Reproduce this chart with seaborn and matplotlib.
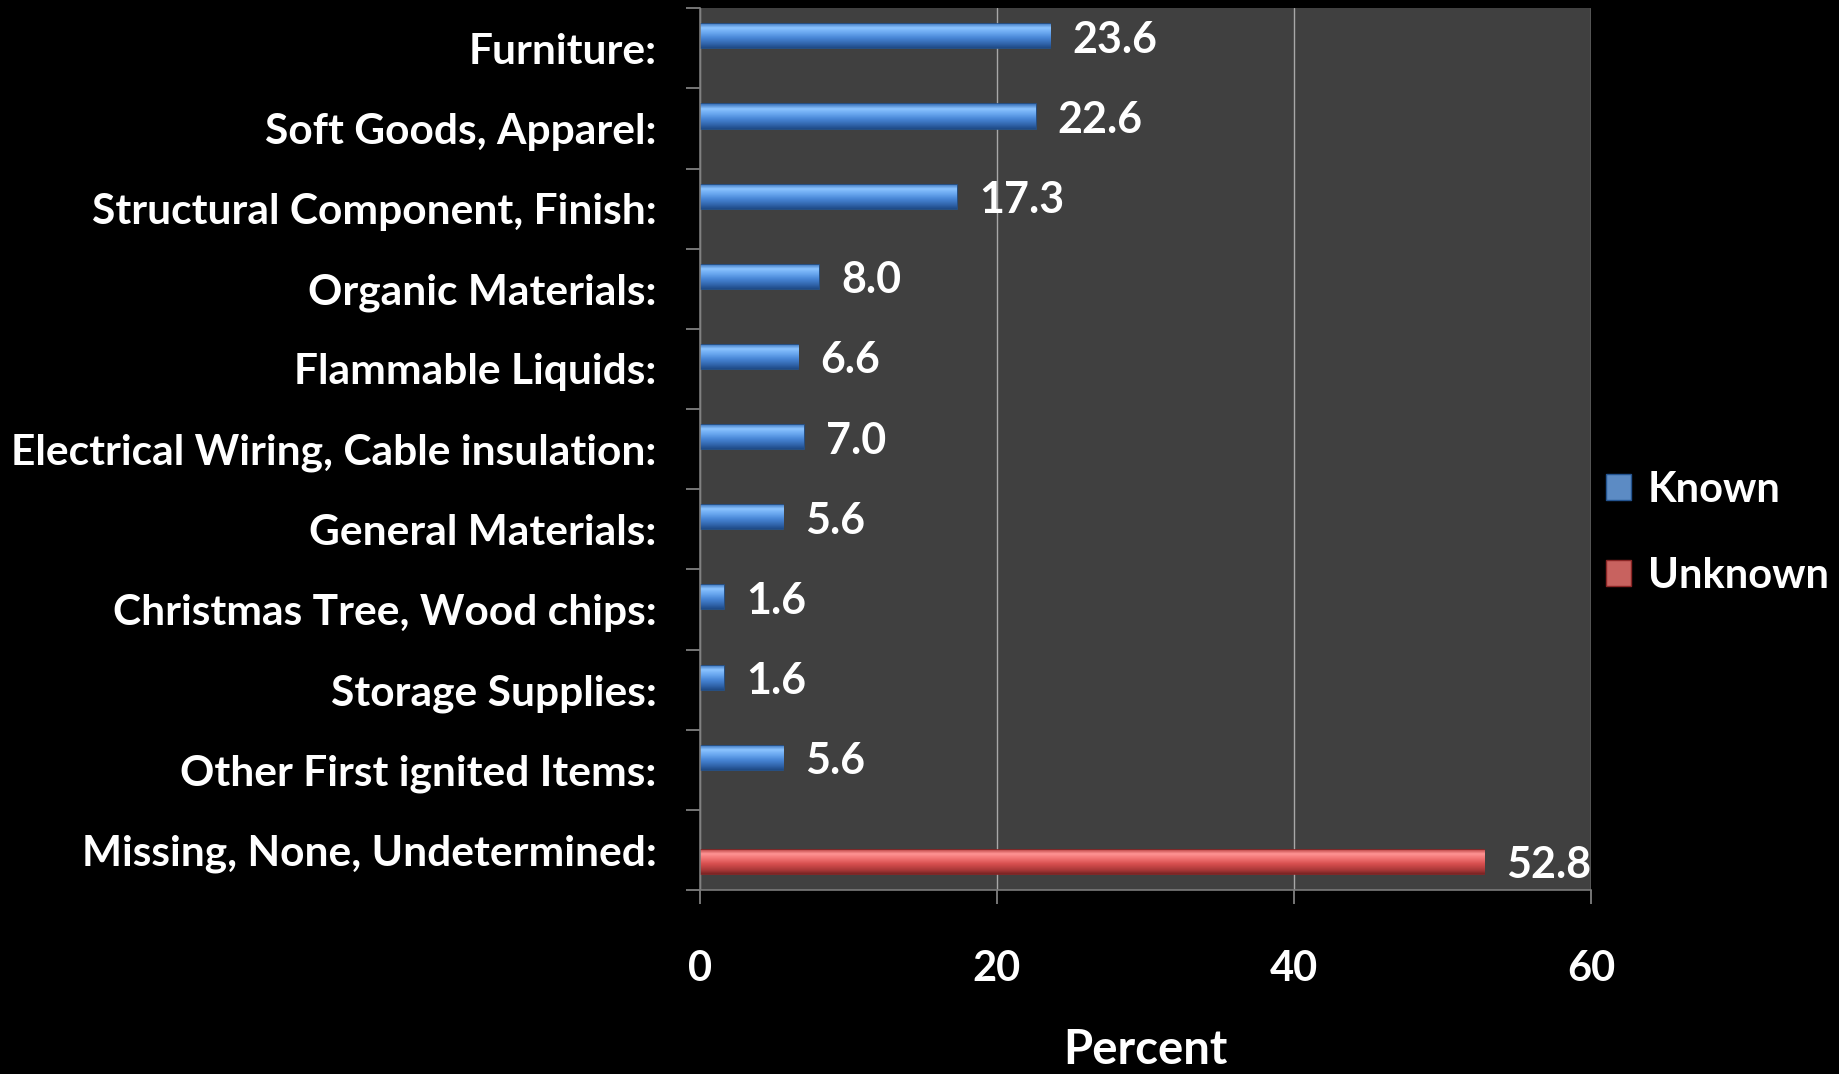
import numpy as np
import pandas as pd
import matplotlib
matplotlib.use("Agg")
import matplotlib.pyplot as plt
from matplotlib.colors import LinearSegmentedColormap
import seaborn as sns

categories = [
    "Furniture:",
    "Soft Goods, Apparel:",
    "Structural Component, Finish:",
    "Organic Materials:",
    "Flammable Liquids:",
    "Electrical Wiring, Cable insulation:",
    "General Materials:",
    "Christmas Tree, Wood chips:",
    "Storage Supplies:",
    "Other First ignited Items:",
    "Missing, None, Undetermined:",
]
values = [23.6, 22.6, 17.3, 8.0, 6.6, 7.0, 5.6, 1.6, 1.6, 5.6, 52.8]
series = ["Known"] * 10 + ["Unknown"]
hue_levels = ["Known", "Unknown"]
x_ticks = [0, 20, 40, 60]

df = pd.DataFrame({"Category": categories, "Percent": values, "Type": series})

sns.set_theme(style="dark")
plt.rcParams["font.family"] = ["Lato", "DejaVu Sans"]
plt.rcParams["font.weight"] = "bold"

fig = plt.figure(figsize=(18.39, 10.74), dpi=100, facecolor="black")
ax = fig.add_axes([0.3806, 0.1713, 0.4845, 0.8210])
ax.set_facecolor("#404040")

palette = {"Known": "#4a8ad6", "Unknown": "#d9514e"}
edges = {"Known": "#23538f", "Unknown": "#8a2525"}
gradients = {
    "Known": ["#3c74bc", "#8cc4ff", "#6aa8f0", "#4886d6", "#2f62a8", "#1f4a85"],
    "Unknown": ["#b84040", "#ff9494", "#f07272", "#d64e4e", "#a83838", "#7a2424"],
}

sns.barplot(data=df, y="Category", x="Percent", hue="Type", hue_order=hue_levels,
            order=categories, orient="h", width=0.6, dodge=True, palette=palette,
            errorbar=None, ax=ax, legend=True)

ax.set_xlim(0, 60)
ax.set_ylim(len(categories) - 0.5, -0.5)

# glossy gradient fill clipped to each bar drawn by seaborn
grad_col = np.linspace(0, 1, 64).reshape(-1, 1)
for cont, lvl in zip(ax.containers, hue_levels):
    cmap = LinearSegmentedColormap.from_list(
        lvl, list(zip([0, 0.18, 0.38, 0.6, 0.85, 1.0], gradients[lvl])))
    for p in cont:
        x0, y0 = p.get_x(), p.get_y()
        w, h = p.get_width(), p.get_height()
        im = ax.imshow(grad_col, cmap=cmap, aspect="auto", origin="upper",
                       extent=(x0, x0 + w, y0 + h, y0), zorder=p.get_zorder() + 0.1,
                       interpolation="bilinear")
        im.set_clip_path(p)
        p.set_edgecolor(edges[lvl])
        p.set_linewidth(1.2)
    texts = ax.bar_label(cont, fmt="%.1f", padding=16, color="white", fontsize=31,
                         fontweight="bold")
    for t in texts:
        t.set_va("center_baseline")

ax.set_xlim(0, 60)
ax.set_ylim(len(categories) - 0.5, -0.5)
ax.set_xticks(x_ticks)

ax.grid(axis="x", color="#a8a8a8", linewidth=1.0)
ax.grid(axis="y", visible=False)
for s in ["top", "right"]:
    ax.spines[s].set_visible(False)
for s in ["left", "bottom"]:
    ax.spines[s].set_color("#7a7a7a")
    ax.spines[s].set_linewidth(1.2)

ax.tick_params(axis="y", which="major", length=0, pad=31, labelsize=30.6,
               labelcolor="white")
ax.set_yticks(np.arange(-0.5, len(categories), 1), minor=True)
ax.tick_params(axis="y", which="minor", length=10, color="#8a8a8a", width=1.2,
               direction="out", left=True)
ax.tick_params(axis="x", length=10, color="#8a8a8a", width=1.2, direction="out",
               bottom=True, pad=33, labelsize=30, labelcolor="white")
for t in ax.get_yticklabels() + ax.get_xticklabels():
    t.set_fontweight("bold")

ax.set_ylabel("")
ax.set_xlabel("Percent", color="white", fontsize=34, fontweight="bold", labelpad=29)

leg = ax.legend(loc="center left", bbox_to_anchor=(0.975, 0.405), frameon=False,
                handlelength=0.6, handleheight=0.6, handletextpad=0.4,
                labelspacing=1.15, labelcolor="white",
                prop={"weight": "bold", "size": 30})
for h, lvl in zip(leg.legend_handles, hue_levels):
    h.set_edgecolor(edges[lvl])

fig.savefig("out.png", dpi=100, facecolor="black")
